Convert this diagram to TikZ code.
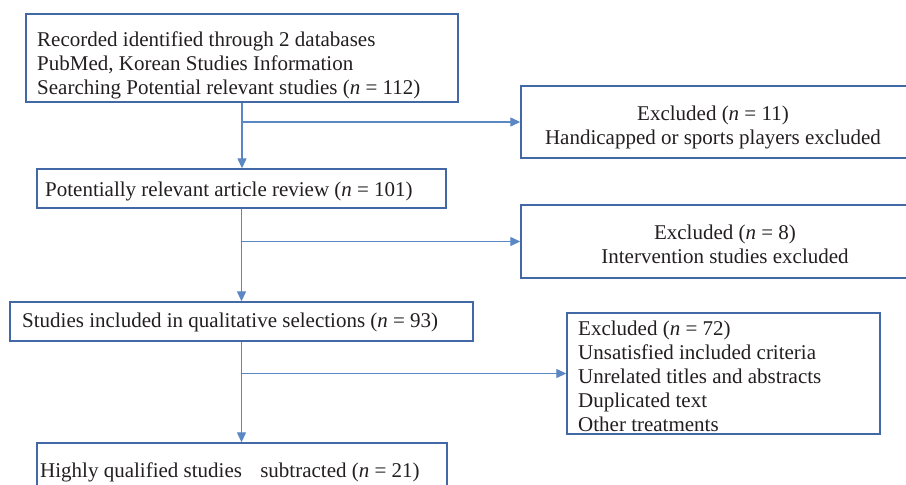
\documentclass[tikz,border=0pt]{standalone}
\usepackage{fontspec}
\setmainfont{Liberation Serif}
\usetikzlibrary{arrows.meta}
\definecolor{boxc}{HTML}{4268A6}
\definecolor{linec}{HTML}{5B88C4}
\definecolor{txt}{HTML}{231F20}
\begin{document}
\begin{tikzpicture}[x=1pt,y=-1pt,
  box/.style={draw=boxc, line width=1.4pt, rectangle, inner sep=0pt},
  lbl/.style={text=txt, inner sep=0pt, font=\fontsize{21}{24}\selectfont},
  conn/.style={draw=linec, line width=1.3pt},
  arr/.style={conn, -{Triangle[length=10pt,width=9pt]}}]
\clip (0,0) rectangle (906,485);
\fill[white] (0,0) rectangle (906,485);
% boxes
\node[box, minimum width=432pt, minimum height=88pt] (b1) at (242,58) {};
\node[box, minimum width=409pt, minimum height=39pt] (b2) at (241.5,188.5) {};
\node[box, minimum width=463pt, minimum height=39pt] (b3) at (241.5,321.5) {};
\node[box, minimum width=410pt, minimum height=50pt] (b4) at (242,468) {};
\node[box, minimum width=386pt, minimum height=72pt] (e1) at (714,122) {};
\node[box, minimum width=408pt, minimum height=73pt] (e2) at (725,241.5) {};
\node[box, minimum width=313pt, minimum height=121pt] (e3) at (723.5,373.5) {};
% texts
\node[lbl, anchor=west, align=left] (b1t) at (37,65)
  {Recorded identified through 2 databases\\PubMed, Korean Studies Information\\Searching Potential relevant studies (\textit{n} = 112)};
\node[lbl, anchor=west, align=left] (b2t) at (45,191)
  {Potentially relevant article review (\textit{n} = 101)};
\node[lbl, anchor=west, align=left] (b3t) at (22,322.5)
  {Studies included in qualitative selections (\textit{n} = 93)};
\node[lbl, anchor=west, align=left] (b4t) at (40,472)
  {Highly qualified studies\hspace{13pt} subtracted (\textit{n} = 21)};
\node[lbl, align=center] (e1t) at (713,127)
  {Excluded (\textit{n} = 11)\\Handicapped or sports players excluded};
\node[lbl, align=center] (e2t) at (725,244)
  {Excluded (\textit{n} = 8)\\Intervention studies excluded};
\node[lbl, anchor=west, align=left] (e3t) at (578,376)
  {Excluded (\textit{n} = 72)\\Unsatisfied included criteria\\Unrelated titles and abstracts\\Duplicated text\\Other treatments};
% connectors
\coordinate (j1) at (b1.south |- e1.west);
\coordinate (j2) at (b2.south |- e2.west);
\coordinate (j3) at (b3.south |- e3.west);
\draw[arr] (b1.south) -- (b1.south |- b2.north);
\draw[arr] (b2.south) -- (b2.south |- b3.north);
\draw[arr] (b3.south) -- (b3.south |- b4.north);
\draw[arr] (j1) -- (e1.west);
\draw[arr] (j2) -- (e2.west);
\draw[arr] (j3) -- (e3.west);
\end{tikzpicture}
\end{document}
